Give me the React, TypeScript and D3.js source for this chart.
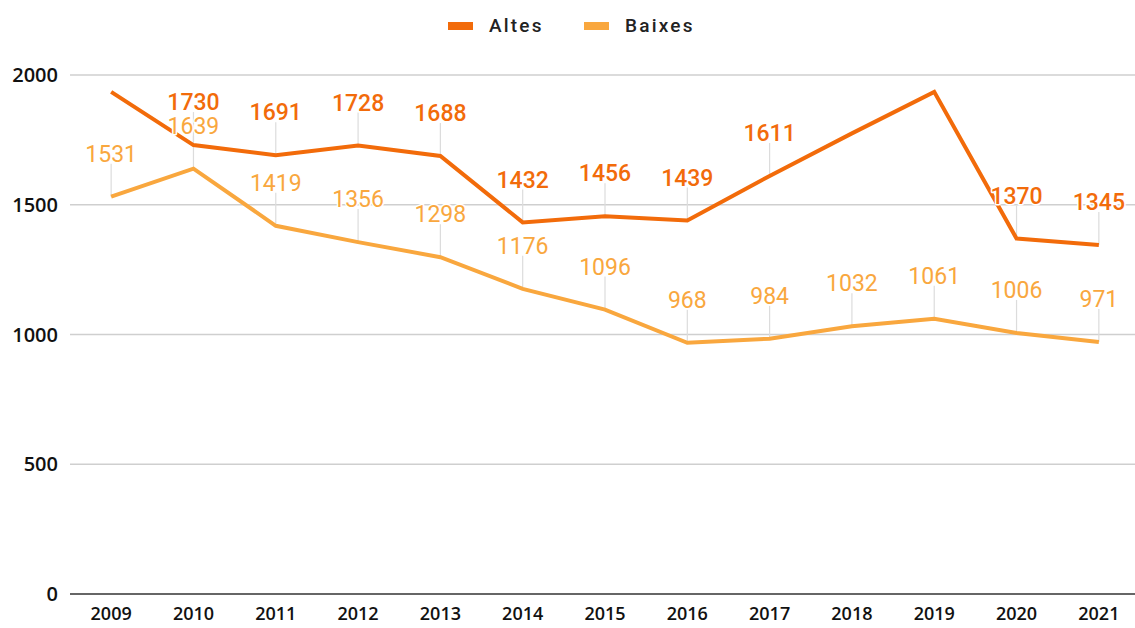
import React from 'react';
import * as d3 from 'd3';

const years = ['2009','2010','2011','2012','2013','2014','2015','2016','2017','2018','2019','2020','2021'];
const altes = [1935, 1730, 1691, 1728, 1688, 1432, 1456, 1439, 1611, 1775, 1935, 1370, 1345];
const altesHiddenLabels = ['2009', '2018', '2019'];
const baixes = [1531, 1639, 1419, 1356, 1298, 1176, 1096, 968, 984, 1032, 1061, 1006, 971];
const yTicks = [0, 500, 1000, 1500, 2000];
const seriesNames = ['Altes', 'Baixes'];

const W = 1135, H = 628;
const C_ALTES = '#F26B0A';
const C_BAIXES = '#F9A73E';

export default function App() {
  const x = d3.scalePoint<string>().domain(years).range([70, 1140]).padding(0.5);
  const y = d3.scaleLinear().domain([0, 2000]).range([594, 75]);
  const line = d3.line<number>().x((_, i) => x(years[i]) as number).y(d => y(d));

  const series = [
    { name: seriesNames[0], values: altes, color: C_ALTES, weight: 500, hidden: altesHiddenLabels },
    { name: seriesNames[1], values: baixes, color: C_BAIXES, weight: 400, hidden: [] as string[] },
  ];

  return (
    <svg width={W} height={H} style={{ position: 'absolute', left: 0, top: 0, background: '#fff' }}>
      <rect x={0} y={0} width={W} height={H} fill="#fff" />
      {/* legend */}
      <g fontFamily="Roboto" fontWeight={500} fontSize={19} letterSpacing={2.2} fill="#222">
        <rect x={448} y={22} width={25} height={8} fill={C_ALTES} />
        <text x={489} y={32}>{seriesNames[0]}</text>
        <rect x={584} y={22} width={25} height={8} fill={C_BAIXES} />
        <text x={625} y={32}>{seriesNames[1]}</text>
      </g>
      {/* grid */}
      {yTicks.map(t => (
        <g key={t}>
          <line x1={70} x2={W} y1={y(t)} y2={y(t)} stroke={t === 0 ? '#666' : '#cfcfcf'} strokeWidth={t === 0 ? 2 : 1.5} />
          <text x={58} y={y(t)} dy="0.36em" textAnchor="end" fontFamily="Open Sans" fontWeight={600} fontSize={20} fill="#111">{t}</text>
        </g>
      ))}
      {years.map(yr => (
        <text key={yr} x={x(yr) as number} y={620} textAnchor="middle" fontFamily="Open Sans" fontWeight={600} fontSize={18} fill="#111">{yr}</text>
      ))}
      {/* leader lines */}
      {series.map(s => s.values.map((v, i) => s.hidden.includes(years[i]) ? null : (
        <line key={s.name + i} x1={x(years[i]) as number} x2={x(years[i]) as number} y1={y(v) - 33} y2={y(v)} stroke="#dcdcdc" strokeWidth={1.2} />
      )))}
      {/* lines */}
      {series.slice().reverse().map(s => (
        <path key={s.name} d={line(s.values) || ''} fill="none" stroke={s.color} strokeWidth={4} strokeLinejoin="miter" />
      ))}
      {/* labels */}
      {series.map(s => s.values.map((v, i) => s.hidden.includes(years[i]) ? null : (
        <text key={s.name + 'l' + i} x={x(years[i]) as number} y={y(v) - 43} dy="0.36em" textAnchor="middle"
          fontFamily="Roboto" fontWeight={s.weight} fontSize={23} fill={s.color}
          stroke="#fff" strokeWidth={3} paintOrder="stroke" strokeLinejoin="round">{v}</text>
      )))}
    </svg>
  );
}
